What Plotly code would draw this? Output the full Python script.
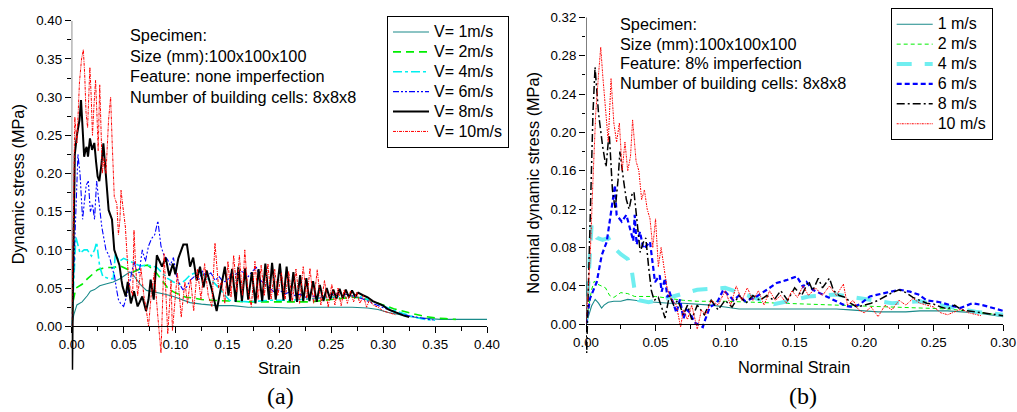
import plotly.graph_objects as go

# ---------------- Panel (a): no imperfection ----------------
a_v1_x = [0, 0.002, 0.005, 0.01, 0.015, 0.018, 0.022, 0.027, 0.032, 0.04, 0.046, 0.052, 0.056, 0.06, 0.066,
          0.072, 0.08, 0.09, 0.098, 0.106, 0.114, 0.125, 0.14, 0.155, 0.17, 0.19, 0.21, 0.23, 0.25, 0.27,
          0.285, 0.295, 0.305, 0.315, 0.325, 0.335, 0.345, 0.355, 0.37, 0.385, 0.4]
a_v1_y = [0, 0.015, 0.028, 0.032, 0.04, 0.046, 0.048, 0.053, 0.055, 0.058, 0.062, 0.068, 0.071, 0.066, 0.055,
          0.047, 0.045, 0.042, 0.039, 0.035, 0.031, 0.029, 0.027, 0.027, 0.025, 0.025, 0.024, 0.025, 0.025, 0.025,
          0.024, 0.022, 0.018, 0.015, 0.013, 0.011, 0.01, 0.009, 0.009, 0.009, 0.009]

a_v2_x = [0, 0.001, 0.004, 0.01, 0.015, 0.02, 0.025, 0.03, 0.035, 0.04, 0.047, 0.053, 0.059, 0.064, 0.069,
          0.073, 0.077, 0.082, 0.087, 0.092, 0.098, 0.104, 0.11, 0.117, 0.125, 0.136, 0.15, 0.17, 0.19, 0.21,
          0.23, 0.25, 0.27, 0.28, 0.29, 0.3, 0.31, 0.32, 0.33, 0.34, 0.35, 0.36, 0.37]
a_v2_y = [0, 0.03, 0.05, 0.055, 0.062, 0.068, 0.074, 0.076, 0.077, 0.077, 0.079, 0.075, 0.071, 0.074, 0.079,
          0.08, 0.076, 0.069, 0.06, 0.051, 0.045, 0.041, 0.038, 0.037, 0.035, 0.034, 0.033, 0.032, 0.032, 0.032,
          0.032, 0.035, 0.038, 0.037, 0.033, 0.028, 0.023, 0.019, 0.016, 0.013, 0.011, 0.01, 0.009]

a_v4_x = [0, 0.002, 0.004, 0.008, 0.012, 0.015, 0.019, 0.022, 0.024, 0.027, 0.03, 0.035, 0.04, 0.042, 0.046,
          0.05, 0.055, 0.06, 0.066, 0.072, 0.077, 0.082, 0.087, 0.092, 0.098, 0.104, 0.109, 0.114, 0.119, 0.123,
          0.128, 0.133, 0.137, 0.142, 0.148, 0.152, 0.16, 0.17, 0.18, 0.19, 0.2, 0.21, 0.22, 0.23, 0.24, 0.25,
          0.26, 0.27, 0.28, 0.29, 0.3, 0.31, 0.32, 0.33, 0.34, 0.35]
a_v4_y = [0, 0.06, 0.117, 0.096, 0.1, 0.1, 0.092, 0.1, 0.11, 0.078, 0.065, 0.063, 0.062, 0.094, 0.085,
          0.089, 0.086, 0.083, 0.079, 0.08, 0.079, 0.077, 0.07, 0.063, 0.058, 0.055, 0.06, 0.067, 0.07, 0.071,
          0.066, 0.06, 0.057, 0.05, 0.04, 0.034, 0.033, 0.032, 0.033, 0.034, 0.034, 0.034, 0.035, 0.036, 0.037, 0.038,
          0.039, 0.04, 0.038, 0.033, 0.027, 0.021, 0.016, 0.012, 0.009, 0.008]

a_v6_x = [0, 0.002, 0.004, 0.006, 0.008, 0.0105, 0.012, 0.014, 0.016, 0.018, 0.02, 0.022, 0.024, 0.0255, 0.027,
          0.029, 0.031, 0.033, 0.035, 0.037, 0.039, 0.041, 0.043, 0.045, 0.047, 0.05, 0.052, 0.054, 0.057, 0.06,
          0.062, 0.065, 0.068, 0.071, 0.074, 0.077, 0.08, 0.083, 0.086, 0.089, 0.092, 0.095, 0.098, 0.101, 0.104,
          0.107, 0.11, 0.114, 0.118, 0.122, 0.126, 0.13, 0.134, 0.138, 0.142, 0.146, 0.15, 0.154, 0.158, 0.162,
          0.166, 0.17, 0.174, 0.178, 0.182, 0.186, 0.19, 0.195, 0.2, 0.205, 0.21, 0.215, 0.22, 0.225, 0.23, 0.24,
          0.25, 0.26, 0.27, 0.28, 0.29, 0.3, 0.31, 0.32, 0.33, 0.34, 0.35]
a_v6_y = [0, 0.08, 0.17, 0.225, 0.2, 0.14, 0.16, 0.185, 0.19, 0.15, 0.16, 0.14, 0.19, 0.17, 0.15,
          0.13, 0.115, 0.1, 0.095, 0.088, 0.075, 0.068, 0.05, 0.035, 0.03, 0.026, 0.035, 0.045, 0.065, 0.085,
          0.075, 0.07, 0.1, 0.085, 0.105, 0.115, 0.12, 0.138, 0.105, 0.092, 0.088, 0.08, 0.09, 0.065, 0.055,
          0.048, 0.05, 0.06, 0.065, 0.06, 0.072, 0.065, 0.07, 0.06, 0.065, 0.058, 0.06, 0.07, 0.068, 0.073,
          0.07, 0.065, 0.072, 0.077, 0.06, 0.055, 0.05, 0.045, 0.048, 0.042, 0.045, 0.04, 0.042, 0.038, 0.04, 0.038,
          0.042, 0.043, 0.04, 0.036, 0.03, 0.024, 0.019, 0.015, 0.012, 0.01, 0.008]

a_v8_x = [0, 0.0005, 0.0012, 0.002, 0.003, 0.005, 0.0075, 0.009, 0.0105, 0.012, 0.0135, 0.0144, 0.0157, 0.0176,
          0.0196, 0.0218, 0.0235, 0.025, 0.0266, 0.0285, 0.0305, 0.032, 0.033, 0.0356, 0.0388, 0.041, 0.0435,
          0.046, 0.048, 0.049, 0.052, 0.054, 0.057, 0.06, 0.0635, 0.068, 0.0716, 0.074, 0.076, 0.079, 0.082,
          0.087, 0.0905, 0.094, 0.0975, 0.0998, 0.1027, 0.1075, 0.111, 0.114, 0.117, 0.1204, 0.1236, 0.127,
          0.13, 0.135, 0.1396, 0.144, 0.1475, 0.151, 0.1545, 0.158, 0.1605, 0.164, 0.167, 0.17, 0.1735, 0.177,
          0.18, 0.1835, 0.1865, 0.19, 0.193, 0.1965, 0.2005, 0.204, 0.207, 0.2105, 0.2135, 0.217, 0.22, 0.223,
          0.226, 0.229, 0.2325, 0.236, 0.239, 0.2425, 0.2456, 0.249, 0.252, 0.255, 0.258, 0.261, 0.264, 0.267,
          0.27, 0.273, 0.276, 0.28, 0.285, 0.29, 0.295, 0.3, 0.305, 0.31, 0.315, 0.32, 0.325]
a_v8_y = [0, -0.057, 0.05, 0.16, 0.225, 0.25, 0.27, 0.296, 0.26, 0.222, 0.232, 0.235, 0.222, 0.246,
          0.231, 0.24, 0.215, 0.196, 0.19, 0.21, 0.2395, 0.215, 0.193, 0.152, 0.14, 0.1, 0.09,
          0.08, 0.06, 0.052, 0.039, 0.058, 0.03, 0.046, 0.026, 0.039, 0.02, 0.035, 0.061, 0.035, 0.093,
          0.078, 0.09, 0.066, 0.082, 0.068, 0.089, 0.107, 0.107, 0.078, 0.09, 0.06, 0.078, 0.051,
          0.073, 0.048, 0.02, 0.05, 0.078, 0.04, 0.075, 0.032, 0.078, 0.033, 0.076, 0.035, 0.071, 0.03,
          0.075, 0.033, 0.082, 0.035, 0.083, 0.035, 0.082, 0.034, 0.078, 0.033, 0.071, 0.032, 0.067, 0.033,
          0.063, 0.033, 0.059, 0.032, 0.054, 0.033, 0.05, 0.035, 0.048, 0.036, 0.049, 0.037, 0.048, 0.038,
          0.047, 0.039, 0.044, 0.041, 0.038, 0.033, 0.03, 0.027, 0.022, 0.019, 0.017, 0.014, 0.012]

a_v10_x = [0, 0.0015, 0.003, 0.005, 0.0075, 0.0095, 0.0112, 0.0125, 0.0138, 0.0153, 0.0165, 0.0175, 0.0188, 0.02,
           0.0215, 0.023, 0.0245, 0.0255, 0.027, 0.0285, 0.0295, 0.031, 0.033, 0.0355, 0.0375, 0.039, 0.041,
           0.0435, 0.045, 0.0465, 0.0475, 0.049, 0.0517, 0.053, 0.055, 0.0587, 0.06, 0.0615, 0.0635, 0.0667,
           0.0695, 0.0716, 0.074, 0.0765, 0.0796, 0.0825, 0.086, 0.089, 0.0925, 0.0957, 0.097, 0.1018, 0.1055,
           0.109, 0.1115, 0.1145, 0.1175, 0.121, 0.1245, 0.128, 0.1315, 0.135, 0.138, 0.1415, 0.1445, 0.1475,
           0.1505, 0.1535, 0.156, 0.159, 0.1615, 0.1645, 0.1667, 0.1695, 0.173, 0.1765, 0.1795, 0.1825, 0.1855,
           0.189, 0.192, 0.1955, 0.1985, 0.202, 0.2055, 0.209, 0.2125, 0.216, 0.2195, 0.223, 0.2265, 0.2295,
           0.233, 0.2365, 0.24, 0.2435, 0.247, 0.2505, 0.2535, 0.2565, 0.2595, 0.2625, 0.2655, 0.2685, 0.2715,
           0.2745, 0.2775, 0.281, 0.284, 0.287, 0.29, 0.295, 0.3, 0.305, 0.31, 0.312]
a_v10_y = [0, 0.15, 0.274, 0.24, 0.32, 0.35, 0.362, 0.33, 0.28, 0.26, 0.3, 0.339, 0.3, 0.25,
           0.29, 0.322, 0.27, 0.23, 0.316, 0.26, 0.2, 0.22, 0.2, 0.27, 0.3, 0.24, 0.17,
           0.16, 0.12, 0.14, 0.178, 0.16, 0.13, 0.1, 0.057, 0.04, 0.126, 0.08, 0.04, 0.076,
           0.04, 0.024, 0.0, 0.04, 0.07, 0.02, -0.035, 0.095, -0.01, 0.06, -0.006, 0.07, 0.012,
           0.058, 0.03, 0.062, 0.02, 0.075, 0.035, 0.082, 0.04, 0.026, 0.109, 0.05, 0.059, 0.03,
           0.085, 0.038, 0.093, 0.045, 0.093, 0.04, 0.1, 0.05, 0.026, 0.085, 0.035, 0.08, 0.04,
           0.082, 0.035, 0.075, 0.04, 0.07, 0.035, 0.072, 0.032, 0.075, 0.03, 0.078, 0.035, 0.076,
           0.03, 0.074, 0.028, 0.06, 0.025, 0.055, 0.028, 0.05, 0.027, 0.048, 0.03, 0.046, 0.032,
           0.045, 0.03, 0.04, 0.025, 0.035, 0.028, 0.025, 0.02, 0.018, 0.016, 0.015]

# ---------------- Panel (b): 8% imperfection ----------------
b_v1_x = [0, 0.002, 0.004, 0.0066, 0.009, 0.0112, 0.013, 0.016, 0.02, 0.025, 0.03, 0.035, 0.04, 0.05, 0.06,
          0.07, 0.08, 0.09, 0.1, 0.11, 0.12, 0.14, 0.16, 0.18, 0.19, 0.2, 0.21, 0.22, 0.23, 0.24, 0.25, 0.26,
          0.27, 0.28, 0.29, 0.3]
b_v1_y = [0, 0.01, 0.019, 0.026, 0.022, 0.017, 0.02, 0.023, 0.024, 0.024, 0.026, 0.025, 0.024, 0.023, 0.022,
          0.022, 0.021, 0.02, 0.018, 0.016, 0.016, 0.016, 0.016, 0.016, 0.015, 0.014, 0.013, 0.013, 0.013, 0.014,
          0.014, 0.014, 0.013, 0.012, 0.01, 0.008]

b_v2_x = [0, 0.002, 0.004, 0.006, 0.008, 0.011, 0.014, 0.017, 0.02, 0.025, 0.03, 0.035, 0.04, 0.05, 0.06,
          0.07, 0.08, 0.1, 0.12, 0.14, 0.16, 0.18, 0.2, 0.22, 0.24, 0.26, 0.28, 0.29, 0.3]
b_v2_y = [0, 0.02, 0.036, 0.045, 0.042, 0.04, 0.038, 0.03, 0.028, 0.033, 0.032, 0.029, 0.029, 0.029, 0.027,
          0.025, 0.024, 0.024, 0.023, 0.022, 0.021, 0.02, 0.019, 0.018, 0.017, 0.016, 0.013, 0.011, 0.01]

b_v4_x = [0, 0.002, 0.004, 0.008, 0.012, 0.016, 0.02, 0.025, 0.03, 0.033, 0.035, 0.038, 0.045, 0.055, 0.065,
          0.08, 0.1, 0.12, 0.135, 0.145, 0.16, 0.18, 0.2, 0.22, 0.24, 0.26, 0.28, 0.3]
b_v4_y = [0, 0.05, 0.103, 0.09, 0.088, 0.09, 0.08, 0.073, 0.068, 0.055, 0.035, 0.025, 0.023, 0.026, 0.03,
          0.036, 0.038, 0.028, 0.021, 0.024, 0.029, 0.031, 0.026, 0.022, 0.024, 0.018, 0.013, 0.01]

b_v6_x = [0, 0.0029, 0.0077, 0.0113, 0.0149, 0.0185, 0.0208, 0.022, 0.0257, 0.029, 0.0316, 0.034, 0.035, 0.0364,
          0.0388, 0.0412, 0.0436, 0.046, 0.0472, 0.0496, 0.053, 0.0544, 0.0568, 0.0585, 0.06, 0.0626, 0.065,
          0.0676, 0.07, 0.0725, 0.0748, 0.078, 0.084, 0.0855, 0.089, 0.094, 0.0987, 0.106, 0.11, 0.1145, 0.1227,
          0.13, 0.137, 0.144, 0.1515, 0.156, 0.1586, 0.163, 0.17, 0.1777, 0.187, 0.192, 0.197, 0.204, 0.211,
          0.216, 0.2257, 0.233, 0.239, 0.245, 0.2545, 0.2617, 0.269, 0.278, 0.285, 0.2926, 0.3]
b_v6_y = [0, 0.027, 0.044, 0.072, 0.086, 0.121, 0.145, 0.114, 0.107, 0.114, 0.1, 0.087, 0.114, 0.083,
          0.0965, 0.079, 0.082, 0.086, 0.072, 0.044, 0.051, 0.034, 0.048, 0.028, 0.034, 0.022, 0.012,
          0.026, 0.006, 0.015, 0.012, 0.002, -0.003, 0.004, 0.018, 0.022, 0.036, 0.025, 0.03, 0.024, 0.029,
          0.036, 0.043, 0.046, 0.05, 0.039, 0.044, 0.036, 0.031, 0.026, 0.019, 0.018, 0.021, 0.029, 0.031,
          0.033, 0.036, 0.034, 0.031, 0.025, 0.023, 0.02, 0.017, 0.022, 0.02, 0.017, 0.014]

b_v8_x = [0, 0.0005, 0.001, 0.003, 0.005, 0.0065, 0.009, 0.012, 0.0144, 0.016, 0.0168, 0.019, 0.021, 0.023,
          0.0244, 0.027, 0.029, 0.031, 0.033, 0.0345, 0.037, 0.039, 0.041, 0.043, 0.045, 0.047, 0.049, 0.052,
          0.055, 0.0568, 0.06, 0.063, 0.066, 0.07, 0.073, 0.076, 0.08, 0.085, 0.09, 0.095, 0.1, 0.105, 0.11,
          0.115, 0.12, 0.125, 0.13, 0.135, 0.14, 0.145, 0.15, 0.155, 0.16, 0.163, 0.167, 0.17, 0.175, 0.178,
          0.182, 0.187, 0.19, 0.195, 0.2, 0.205, 0.21, 0.215, 0.22, 0.225, 0.23, 0.235, 0.24, 0.245, 0.25,
          0.255, 0.26, 0.265, 0.27, 0.275, 0.28, 0.285, 0.29, 0.295, 0.3]
b_v8_y = [0, -0.03, 0.0, 0.12, 0.22, 0.268, 0.22, 0.185, 0.164, 0.19, 0.197, 0.14, 0.12, 0.15,
          0.18, 0.15, 0.13, 0.12, 0.135, 0.138, 0.1, 0.075, 0.085, 0.09, 0.06, 0.035, 0.025, 0.028,
          0.015, 0.0065, 0.03, 0.02, 0.025, 0.01, 0.02, 0.005, 0.02, 0.01, 0.025, 0.015, 0.025, 0.018, 0.03,
          0.022, 0.03, 0.025, 0.03, 0.025, 0.035, 0.025, 0.038, 0.03, 0.045, 0.035, 0.048, 0.038, 0.048, 0.035,
          0.03, 0.028, 0.022, 0.018, 0.02, 0.022, 0.025, 0.029, 0.033, 0.036, 0.033, 0.028, 0.025, 0.022, 0.021,
          0.018, 0.016, 0.02, 0.015, 0.014, 0.013, 0.012, 0.011, 0.01, 0.009]

b_v10_x = [0, 0.003, 0.005, 0.007, 0.009, 0.0106, 0.012, 0.014, 0.016, 0.018, 0.02, 0.022, 0.024, 0.026, 0.028,
           0.03, 0.032, 0.0335, 0.036, 0.038, 0.04, 0.042, 0.044, 0.046, 0.048, 0.05, 0.052, 0.054, 0.056,
           0.058, 0.06, 0.062, 0.065, 0.068, 0.07, 0.073, 0.076, 0.08, 0.083, 0.086, 0.09, 0.095, 0.1, 0.104,
           0.108, 0.112, 0.116, 0.12, 0.124, 0.128, 0.132, 0.136, 0.14, 0.144, 0.148, 0.152, 0.156, 0.16,
           0.165, 0.17, 0.175, 0.18, 0.185, 0.188, 0.192, 0.196, 0.2, 0.205, 0.21, 0.215, 0.22, 0.225, 0.23,
           0.235, 0.24, 0.245, 0.25, 0.255, 0.26, 0.265, 0.27, 0.275, 0.28, 0.284]
b_v10_y = [0, 0.07, 0.15, 0.22, 0.26, 0.289, 0.26, 0.22, 0.19, 0.256, 0.21, 0.19, 0.21, 0.16, 0.19,
           0.16, 0.175, 0.213, 0.17, 0.16, 0.13, 0.14, 0.12, 0.11, 0.08, 0.11, 0.06, 0.08, 0.06,
           0.04, 0.03, 0.025, 0.02, -0.003, 0.015, 0.005, 0.02, -0.005, 0.015, 0.01, 0.025, 0.02, 0.035, 0.02,
           0.04, 0.025, 0.038, 0.025, 0.035, 0.02, 0.035, 0.025, 0.03, 0.022, 0.035, 0.028, 0.04, 0.03,
           0.038, 0.03, 0.04, 0.03, 0.042, 0.02, 0.025, 0.015, 0.012, 0.018, 0.008, 0.02, 0.015, 0.025, 0.02,
           0.027, 0.022, 0.02, 0.018, 0.012, 0.01, 0.013, 0.016, 0.012, 0.01, 0.009]

a_names = ["V= 1m/s", "V= 2m/s", "V= 4m/s", "V= 6m/s", "V= 8m/s", "V= 10m/s"]
b_names = ["1 m/s", "2 m/s", "4 m/s", "6 m/s", "8 m/s", "10 m/s"]

a_xticks = [0, 0.05, 0.10, 0.15, 0.20, 0.25, 0.30, 0.35, 0.40]
a_yticks = [0, 0.05, 0.10, 0.15, 0.20, 0.25, 0.30, 0.35, 0.40]
b_xticks = [0, 0.05, 0.10, 0.15, 0.20, 0.25, 0.30]
b_yticks = [0, 0.04, 0.08, 0.12, 0.16, 0.20, 0.24, 0.28, 0.32]

a_text = ["Specimen:", "Size (mm):100x100x100", "Feature: none imperfection", "Number of building cells: 8x8x8"]
b_text = ["Specimen:", "Size (mm):100x100x100", "Feature: 8% imperfection", "Number of building cells: 8x8x8"]

SANS = "Liberation Sans, Arial, sans-serif"
SERIF = "Liberation Serif, Times New Roman, serif"
W, H = 1017, 412
OFF = 0  # body margin is removed by the post script, so the figure sits at the page corner


def big(name):
    # legend entry text drawn at 16px while the legend row height follows the 13px legend font
    return '<span style="font-size:16px">' + name + '</span>'


fig = go.Figure()

a_series = [
    (a_v1_x, a_v1_y, dict(color="#1a8a8a", width=1.1, dash="solid")),
    (a_v2_x, a_v2_y, dict(color="#00ee00", width=1.6, dash="8px,5px")),
    (a_v4_x, a_v4_y, dict(color="#00f0f0", width=1.6, dash="9px,3px,3px,3px")),
    (a_v6_x, a_v6_y, dict(color="#0000ff", width=1.1, dash="6px,2px,2px,2px,2px,2px")),
    (a_v8_x, a_v8_y, dict(color="#000000", width=2.0, dash="solid")),
    (a_v10_x, a_v10_y, dict(color="#ff0000", width=1.0, dash="3px,1px,1px,1px")),
]
for (xs, ys, ln), nm in zip(a_series, a_names):
    fig.add_trace(go.Scatter(x=xs, y=ys, mode="lines", name=big(nm), line=ln,
                             xaxis="x", yaxis="y", legend="legend"))

b_series = [
    (b_v1_x, b_v1_y, dict(color="#1a8a8a", width=1.1, dash="solid")),
    (b_v2_x, b_v2_y, dict(color="#00ee00", width=1.0, dash="4px,3px")),
    (b_v4_x, b_v4_y, dict(color="#70eef0", width=4.0, dash="15px,13px")),
    (b_v6_x, b_v6_y, dict(color="#0000ff", width=2.2, dash="5px,3px")),
    (b_v8_x, b_v8_y, dict(color="#000000", width=1.5, dash="8px,3px,2px,3px")),
    (b_v10_x, b_v10_y, dict(color="#ff0000", width=1.0, dash="2px,1px,1px,1px")),
]
for (xs, ys, ln), nm in zip(b_series, b_names):
    fig.add_trace(go.Scatter(x=xs, y=ys, mode="lines", name=big(nm), line=ln,
                             xaxis="x2", yaxis="y2", legend="legend2"))

# geometry in (screen) pixels
a_x0, a_x1 = 71.7, 487.0
a_ytop, a_yzero = 20.7, 326.3
a_yrange = [-0.06, 0.40]
a_scale = (a_yzero - a_ytop) / 0.40
a_ybot = a_yzero + 0.06 * a_scale

b_x0, b_x1 = 586.0, 1003.3
b_ytop, b_yzero = 17.3, 324.3
b_yrange = [-0.035, 0.32]
b_scale = (b_yzero - b_ytop) / 0.32
b_ybot = b_yzero + 0.035 * b_scale


def px(v):
    return (v - OFF) / W


def py(v):
    return 1 - (v - OFF) / H


tickfont = dict(family=SANS, size=13.3, color="black")


def minor_vals(ticks):
    return [(ticks[i] + ticks[i + 1]) / 2 for i in range(len(ticks) - 1)]


def minor_cfg(ticks):
    return dict(tickmode="array", tickvals=minor_vals(ticks), ticks="outside", ticklen=3.5,
                tickcolor="black", tickwidth=1, showgrid=False)


common_x = dict(showgrid=False, zeroline=False, showline=True, linecolor="black", linewidth=1,
                ticks="outside", ticklen=6, tickwidth=1, tickcolor="black", tickfont=tickfont,
                anchor="free", tickmode="array", automargin=False, ticklabeloverflow="allow")
common_y = dict(showgrid=False, zeroline=False, showline=False,
                ticks="outside", ticklen=6, tickwidth=1, tickcolor="black", tickfont=tickfont,
                tickmode="array", automargin=False, ticklabeloverflow="allow")

legend_common = dict(xanchor="left", yanchor="top", bgcolor="white", bordercolor="black", borderwidth=1,
                     font=dict(family=SANS, size=13, color="black"), itemwidth=36, tracegroupgap=0)

fig.update_layout(
    width=W, height=H, margin=dict(l=0, r=0, t=0, b=0, pad=0, autoexpand=False),
    paper_bgcolor="white", plot_bgcolor="rgba(0,0,0,0)",
    font=dict(family=SANS, size=16, color="black"),
    xaxis=dict(domain=[px(a_x0), px(a_x1)], range=[0, 0.40], position=py(a_yzero),
               tickvals=a_xticks, ticktext=[f"{v:.2f}" for v in a_xticks],
               minor=minor_cfg(a_xticks), **common_x),
    yaxis=dict(domain=[py(a_ybot), py(a_ytop)], range=a_yrange, anchor="x",
               tickvals=a_yticks, ticktext=[f"{v:.2f}" for v in a_yticks],
               minor=minor_cfg(a_yticks), **common_y),
    xaxis2=dict(domain=[px(b_x0), px(b_x1)], range=[0, 0.30], position=py(b_yzero),
                tickvals=b_xticks, ticktext=[f"{v:.2f}" for v in b_xticks],
                minor=minor_cfg(b_xticks), **common_x),
    yaxis2=dict(domain=[py(b_ybot), py(b_ytop)], range=b_yrange, anchor="x2",
                tickvals=b_yticks, ticktext=[f"{v:.2f}" for v in b_yticks],
                minor=minor_cfg(b_yticks), **common_y),
    legend=dict(x=px(387), y=py(16), **legend_common),
    legend2=dict(x=px(890.7), y=py(8.3), **legend_common),
    showlegend=True,
)

# y-axis lines from 0 to top only
fig.add_shape(type="line", xref="x", yref="y", x0=0, x1=0, y0=0, y1=0.40,
              line=dict(color="black", width=1))
fig.add_shape(type="line", xref="x2", yref="y2", x0=0, x1=0, y0=0, y1=0.32,
              line=dict(color="black", width=1))

TXT = dict(family=SANS, size=16.3, color="black")
ann = []
a_text_y = [35, 55.5, 76, 96.7]
for t, yy in zip(a_text, a_text_y):
    ann.append(dict(text=t, x=px(128), y=py(yy), xref="paper", yref="paper", xanchor="left",
                    yanchor="middle", showarrow=False, font=TXT))
b_text_y = [24, 43.5, 63.5, 83.5]
for t, yy in zip(b_text, b_text_y):
    ann.append(dict(text=t, x=px(617.7), y=py(yy), xref="paper", yref="paper", xanchor="left",
                    yanchor="middle", showarrow=False, font=TXT))

# axis titles
ann.append(dict(text="Strain", x=px(279.3), y=py(368), xref="paper", yref="paper", showarrow=False,
                xanchor="center", yanchor="middle", font=TXT))
ann.append(dict(text="Norminal Strain", x=px(794), y=py(367), xref="paper", yref="paper", showarrow=False,
                xanchor="center", yanchor="middle", font=TXT))
ann.append(dict(text="Dynamic stress (MPa)", x=px(18.3), y=py(184), xref="paper", yref="paper",
                showarrow=False, textangle=-90, xanchor="center", yanchor="middle", font=TXT))
ann.append(dict(text="Nominal dynamic stress (MPa)", x=px(532.7), y=py(183), xref="paper", yref="paper",
                showarrow=False, textangle=-90, xanchor="center", yanchor="middle", font=TXT))
# panel labels
ann.append(dict(text="(a)", x=px(280), y=py(396), xref="paper", yref="paper", showarrow=False,
                xanchor="center", yanchor="middle", font=dict(family=SERIF, size=24, color="black")))
ann.append(dict(text="(b)", x=px(803), y=py(396), xref="paper", yref="paper", showarrow=False,
                xanchor="center", yanchor="middle", font=dict(family=SERIF, size=24, color="black")))
fig.update_layout(annotations=ann)

fig.write_html(
    "out.html",
    config={"displayModeBar": False, "staticPlot": True},
    post_script="document.body.style.margin='0';document.body.style.overflow='hidden';",
)
